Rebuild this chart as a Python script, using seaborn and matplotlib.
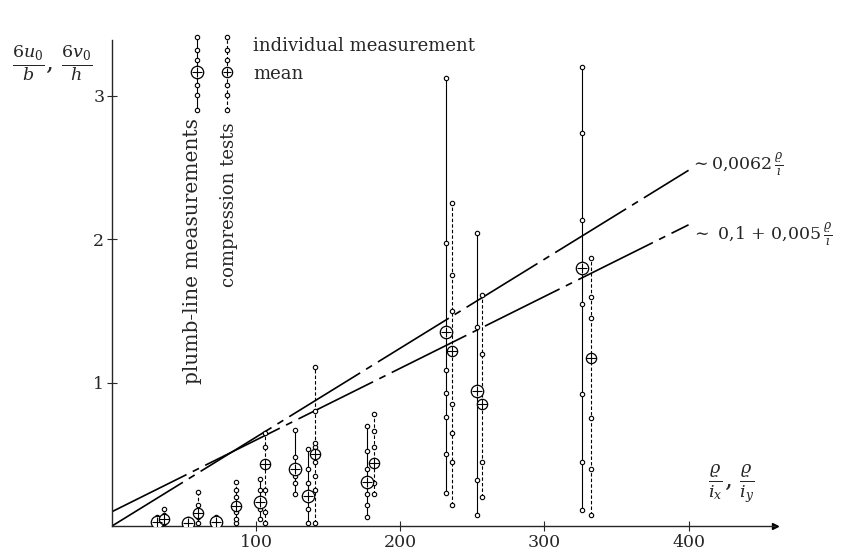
import numpy as np
import pandas as pd
import matplotlib
matplotlib.use("Agg")
import matplotlib.pyplot as plt
import seaborn as sns

# ---------------- data ----------------
plumb_x = [31, 53, 72, 103, 127, 136, 177, 232, 253, 326]
plumb_vals = [
    [0.02, 0.03, 0.06],
    [0.01, 0.03, 0.05],
    [0.01, 0.03, 0.06],
    [0.05, 0.12, 0.17, 0.25, 0.33],
    [0.22, 0.30, 0.35, 0.40, 0.48, 0.67],
    [0.02, 0.12, 0.21, 0.30, 0.40, 0.54],
    [0.06, 0.15, 0.22, 0.31, 0.40, 0.52, 0.70],
    [0.23, 0.50, 0.76, 0.93, 1.09, 1.38, 1.97, 3.12],
    [0.08, 0.32, 0.95, 1.39, 2.04],
    [0.11, 0.45, 0.92, 1.55, 2.13, 2.74, 3.20],
]
plumb_mean = [0.03, 0.02, 0.03, 0.17, 0.40, 0.21, 0.31, 1.35, 0.94, 1.80]

comp_x = [36, 60, 86, 106, 141, 182, 236, 257, 332]
comp_vals = [
    [0.02, 0.05, 0.08, 0.12],
    [0.02, 0.06, 0.09, 0.15, 0.24],
    [0.02, 0.05, 0.10, 0.20, 0.25, 0.31],
    [0.02, 0.10, 0.25, 0.55, 0.65],
    [0.02, 0.25, 0.35, 0.45, 0.55, 0.58, 0.80, 1.11],
    [0.22, 0.30, 0.55, 0.66, 0.78],
    [0.15, 0.45, 0.65, 0.85, 1.50, 1.75, 2.25],
    [0.20, 0.45, 1.20, 1.61],
    [0.08, 0.40, 0.75, 1.45, 1.60, 1.87],
]
comp_mean = [0.05, 0.09, 0.14, 0.43, 0.50, 0.44, 1.22, 0.85, 1.17]

fit_x = [0, 400]
fit1_slope, fit1_icpt = 0.0062, 0.0
fit2_slope, fit2_icpt = 0.005, 0.1

xticks = [100, 200, 300, 400]
yticks = [1, 2, 3]

# ---------------- build frames ----------------
rows = []
for g, (x, vals) in enumerate(zip(plumb_x, plumb_vals)):
    for v in vals:
        rows.append(dict(x=x, y=v, kind="plumb", grp=f"p{g}"))
for g, (x, vals) in enumerate(zip(comp_x, comp_vals)):
    for v in vals:
        rows.append(dict(x=x, y=v, kind="comp", grp=f"c{g}"))
ind = pd.DataFrame(rows)
means = pd.concat([
    pd.DataFrame(dict(x=plumb_x, y=plumb_mean, kind="plumb")),
    pd.DataFrame(dict(x=comp_x, y=comp_mean, kind="comp")),
])
rng = pd.concat([ind, means.assign(grp=[f"p{i}" for i in range(len(plumb_x))] +
                                   [f"c{i}" for i in range(len(comp_x))])])
rng = rng.sort_values(["grp", "y"])

# ---------------- figure ----------------
sns.set_style("ticks")
plt.rcParams["font.family"] = ["DejaVu Serif"]
plt.rcParams["mathtext.fontset"] = "dejavuserif"
plt.rcParams["lines.scale_dashes"] = False

fig = plt.figure(figsize=(8.48, 5.52), dpi=100)
ax = fig.add_axes([0.132, 0.047, 0.782, 0.881])

sns.lineplot(data=rng, x="x", y="y", units="grp", estimator=None, sort=False,
             style="kind", dashes={"plumb": "", "comp": (2.5, 1.5)},
             color="black", lw=0.8, legend=False, ax=ax)
sns.scatterplot(data=ind, x="x", y="y", marker="o", s=10, facecolor="white",
                edgecolor="black", linewidth=0.8, legend=False, ax=ax, zorder=3)
mp = means[means.kind == "plumb"]
mc = means[means.kind == "comp"]
sns.scatterplot(data=mp, x="x", y="y", marker="o", s=80, facecolor="white",
                edgecolor="black", linewidth=0.9, legend=False, ax=ax, zorder=4)
sns.scatterplot(data=mp, x="x", y="y", marker="+", s=60, color="black",
                linewidth=0.8, legend=False, ax=ax, zorder=5)
sns.scatterplot(data=mc, x="x", y="y", marker="o", s=55, facecolor="white",
                edgecolor="black", linewidth=0.9, legend=False, ax=ax, zorder=4)
sns.scatterplot(data=mc, x="x", y="y", marker="+", s=45, color="black",
                linewidth=0.8, legend=False, ax=ax, zorder=5)

# fit lines
fx = np.array(fit_x, dtype=float)
ax.plot(fx, fit1_icpt + fit1_slope * fx, color="black", lw=1.2,
        dashes=(60, 5, 5, 5))
ax.plot(fx, fit2_icpt + fit2_slope * fx, color="black", lw=1.2,
        dashes=(60, 5, 5, 5))
ax.text(401, fit1_icpt + fit1_slope * 400 + 0.04,
        r"$\sim$0,0062$\,\frac{\varrho}{i}$", fontsize=12.5, va="center", ha="left")
ax.text(402, fit2_icpt + fit2_slope * 400 - 0.07,
        r"$\sim$ 0,1 + 0,005$\,\frac{\varrho}{i}$", fontsize=12.5, va="center", ha="left")

# axes
ax.set_xlim(0, 460)
ax.set_ylim(0, 3.39)
ax.set_xticks(xticks)
ax.set_xticklabels([str(t) for t in xticks], fontsize=12.5)
ax.set_yticks(yticks)
ax.set_yticklabels([str(t) for t in yticks], fontsize=12.5)
ax.tick_params(direction="inout", length=7, width=0.8, pad=2)
ax.set_xlabel("")
ax.set_ylabel("")
for s in ["top", "right"]:
    ax.spines[s].set_visible(False)
for s in ["left", "bottom"]:
    ax.spines[s].set_linewidth(1.0)
ax.plot(1.0, 0, marker=">", ms=5, color="black", transform=ax.transAxes,
        clip_on=False)

# axis labels
fig.text(0.062, 0.885, r"$\frac{6u_0}{b}$, $\frac{6v_0}{h}$", fontsize=18,
         ha="center", va="center")
ax.text(0.935, 0.085, r"$\frac{\varrho}{i_x}$, $\frac{\varrho}{i_y}$",
        fontsize=18, ha="center", va="center", transform=ax.transAxes)

# legend glyphs (axes coordinates)
ly = np.array([1.006, 0.979, 0.959, 0.934, 0.907, 0.887, 0.856])
for lx, s_big, ls in [(0.128, 80, "-"), (0.174, 55, (0, (2.5, 1.5)))]:
    ax.plot([lx] * 2, [ly[-1], ly[0]], color="black", lw=0.8, ls=ls,
            transform=ax.transAxes, clip_on=False)
    pts = np.delete(ly, 3)
    ax.scatter([lx] * len(pts), pts, marker="o", s=10, facecolor="white",
               edgecolor="black", linewidth=0.8, transform=ax.transAxes,
               zorder=3, clip_on=False)
    ax.scatter([lx], [ly[3]], marker="o", s=s_big, facecolor="white",
               edgecolor="black", linewidth=0.9, transform=ax.transAxes, zorder=4)
    ax.scatter([lx], [ly[3]], marker="+", s=s_big * 0.75, color="black",
               linewidth=0.8, transform=ax.transAxes, zorder=5)
ax.text(0.213, 0.988, "individual measurement", fontsize=13, ha="left",
        va="center", transform=ax.transAxes)
ax.text(0.213, 0.93, "mean", fontsize=13, ha="left", va="center",
        transform=ax.transAxes)
ax.text(0.121, 0.838, "plumb-line measurements", fontsize=14.5, rotation=90,
        ha="center", va="top", transform=ax.transAxes)
ax.text(0.176, 0.830, "compression tests", fontsize=13, rotation=90,
        ha="center", va="top", transform=ax.transAxes)

fig.savefig("out.png", dpi=100)
